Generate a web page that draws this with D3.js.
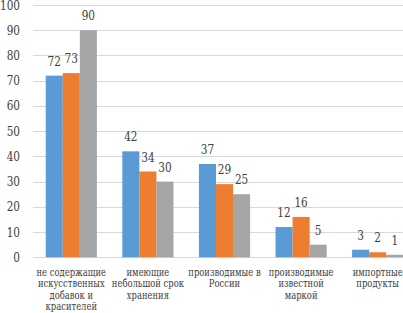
<!DOCTYPE html>
<html>
<head>
<meta charset="utf-8">
<script src="https://cdn.jsdelivr.net/npm/d3@7"></script>
<style>
  body { margin: 0; background: #fff; }
  svg { display: block; }
</style>
</head>
<body>
<div id="chart"></div>
<script>
const categories = [
  ["не содержащие", "искусственных", "добавок и", "красителей"],
  ["имеющие", "небольшой срок", "хранения"],
  ["производимые в", "России"],
  ["производимые", "известной", "маркой"],
  ["импортные", "продукты"]
];
const seriesA = [72, 42, 37, 12, 3];
const seriesB = [73, 34, 29, 16, 2];
const seriesC = [90, 30, 25, 5, 1];
const yTicks = [0, 10, 20, 30, 40, 50, 60, 70, 80, 90, 100];
const colors = ["#5b9bd5", "#ed7d31", "#a5a5a5"];

const width = 403, height = 313;
const serif = "DejaVu Serif";
// DejaVu Serif is wider than the Times face of the original, so squeeze it
const squeeze = 0.84;

const svg = d3.select("#chart").append("svg")
  .attr("width", width).attr("height", height);

const x0 = d3.scaleBand().domain(d3.range(categories.length)).range([33, 416]);
// bars occupy ~51px of a ~76.6px band
const x1 = d3.scaleBand().domain([0, 1, 2])
  .range([x0.bandwidth() * 0.166, x0.bandwidth() * 0.834]);
const y = d3.scaleLinear().domain([0, 100]).range([257.3, 5]);

// gridlines
svg.append("g")
  .selectAll("line")
  .data(yTicks)
  .join("line")
  .attr("x1", 33).attr("x2", width)
  .attr("y1", d => Math.round(y(d)) + 0.5).attr("y2", d => Math.round(y(d)) + 0.5)
  .attr("stroke", "#d9d9d9").attr("stroke-width", 1);

// y tick labels
svg.append("g")
  .selectAll("text")
  .data(yTicks)
  .join("text")
  .attr("transform", d => `translate(20,${y(d) + 4.5}) scale(${squeeze},1)`)
  .attr("text-anchor", "end")
  .attr("font-family", serif)
  .attr("font-size", 12.5)
  .attr("fill", "#404040")
  .text(d => d);

const rows = categories.map((c, i) => [seriesA[i], seriesB[i], seriesC[i]]);

const groups = svg.append("g")
  .selectAll("g")
  .data(rows)
  .join("g")
  .attr("transform", (d, i) => `translate(${x0(i)},0)`);

groups.selectAll("rect")
  .data(d => d)
  .join("rect")
  .attr("x", (d, j) => x1(j))
  .attr("width", x1.bandwidth())
  .attr("y", d => y(d))
  .attr("height", d => y(0) - y(d))
  .attr("fill", (d, j) => colors[j]);

groups.selectAll("text")
  .data(d => d)
  .join("text")
  .attr("transform", (d, j) =>
    `translate(${x1(j) + x1.bandwidth() / 2},${y(d) - 10}) scale(${squeeze},1)`)
  .attr("text-anchor", "middle")
  .attr("font-family", serif)
  .attr("font-size", 12.5)
  .attr("fill", "#404040")
  .text(d => d);

// category labels
const labels = svg.append("g")
  .selectAll("text")
  .data(categories)
  .join("text")
  .attr("transform", (d, i) =>
    `translate(${x0(i) + x0.bandwidth() / 2},276) scale(0.8,1)`)
  .attr("text-anchor", "middle")
  .attr("font-family", serif)
  .attr("font-size", 10.5)
  .attr("fill", "#404040");

labels.selectAll("tspan")
  .data(d => d)
  .join("tspan")
  .attr("x", 0)
  .attr("dy", (d, k) => k === 0 ? 0 : 11.5)
  .text(d => d);
</script>
</body>
</html>
